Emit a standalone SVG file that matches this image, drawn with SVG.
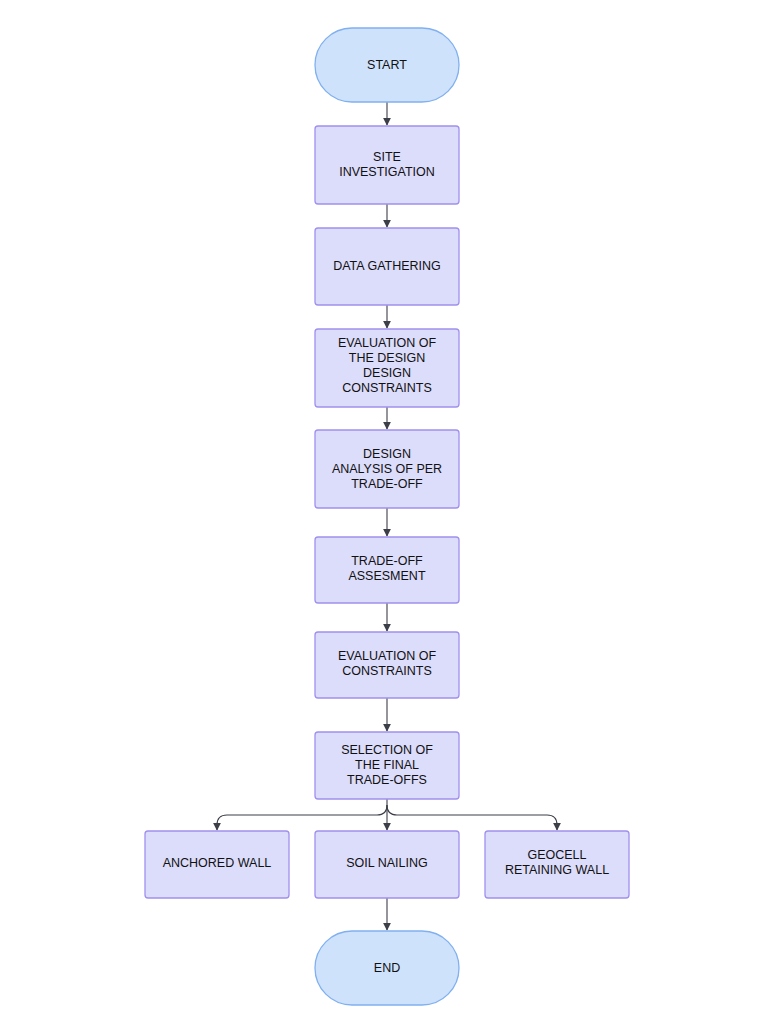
<svg xmlns="http://www.w3.org/2000/svg" width="768" height="1024" viewBox="0 0 768 1024">
<style>
.n{fill:#dcdcfb;stroke:#a090ee;stroke-width:1.3}
.t{fill:#cfe2fb;stroke:#80b0f0;stroke-width:1.3}
text{font-family:"Liberation Sans",Arial,sans-serif;font-size:12.5px;fill:#111;text-anchor:middle}
.c{fill:none;stroke:#3d3f48;stroke-width:1.1;marker-end:url(#a)}
</style>
<defs><marker id="a" viewBox="0 0 10 10" refX="9" refY="5" markerWidth="7" markerHeight="7" orient="auto"><path d="M0 0L10 5L0 10z" fill="#3d3f48"/></marker></defs>
<rect width="768" height="1024" fill="#fff"/>
<g id="connectors">
<path class="c" d="M387 102V125"/>
<path class="c" d="M387 204V227"/>
<path class="c" d="M387 305V328"/>
<path class="c" d="M387 407V429"/>
<path class="c" d="M387 508V536"/>
<path class="c" d="M387 603V631"/>
<path class="c" d="M387 698V731"/>
<path class="c" d="M387 799V830"/>
<path class="c" d="M387 805Q387 815 377 815H227Q217 815 217 825V830"/>
<path class="c" d="M387 805Q387 815 397 815H547Q557 815 557 825V830"/>
<path class="c" d="M387 898V930"/>
</g>
<g id="start"><rect class="t" x="315" y="28" width="144" height="74" rx="37"/><text x="387" y="69">START</text></g>
<g id="site"><rect class="n" x="315" y="126" width="144" height="78" rx="3"/><text x="387" y="161">SITE</text><text x="387" y="176">INVESTIGATION</text></g>
<g id="data"><rect class="n" x="315" y="228" width="144" height="77" rx="3"/><text x="387" y="270">DATA GATHERING</text></g>
<g id="eval"><rect class="n" x="315" y="329" width="144" height="78" rx="3"/><text x="387" y="347">EVALUATION OF</text><text x="387" y="362">THE DESIGN</text><text x="387" y="377">DESIGN</text><text x="387" y="392">CONSTRAINTS</text></g>
<g id="design"><rect class="n" x="315" y="430" width="144" height="78" rx="3"/><text x="387" y="458">DESIGN</text><text x="387" y="473">ANALYSIS OF PER</text><text x="387" y="488">TRADE-OFF</text></g>
<g id="trade"><rect class="n" x="315" y="537" width="144" height="66" rx="3"/><text x="387" y="565">TRADE-OFF</text><text x="387" y="580">ASSESMENT</text></g>
<g id="evalc"><rect class="n" x="315" y="632" width="144" height="66" rx="3"/><text x="387" y="660">EVALUATION OF</text><text x="387" y="675">CONSTRAINTS</text></g>
<g id="sel"><rect class="n" x="315" y="732" width="144" height="67" rx="3"/><text x="387" y="754">SELECTION OF</text><text x="387" y="769">THE FINAL</text><text x="387" y="784">TRADE-OFFS</text></g>
<g id="anch"><rect class="n" x="145" y="831" width="144" height="67" rx="3"/><text x="217" y="867">ANCHORED WALL</text></g>
<g id="soil"><rect class="n" x="315" y="831" width="144" height="67" rx="3"/><text x="387" y="867">SOIL NAILING</text></g>
<g id="geo"><rect class="n" x="485" y="831" width="144" height="67" rx="3"/><text x="557" y="859">GEOCELL</text><text x="557" y="874">RETAINING WALL</text></g>
<g id="end"><rect class="t" x="315" y="931" width="144" height="74" rx="37"/><text x="387" y="972">END</text></g>
</svg>
